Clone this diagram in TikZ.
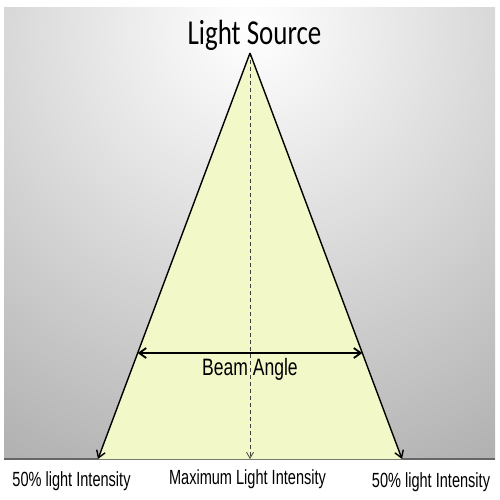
\documentclass[tikz,border=0pt]{standalone}
\usepackage{fontspec}
\usepackage{tikz}
\usetikzlibrary{arrows.meta,calc}
\newfontfamily\titlefont{Carlito}
\newfontfamily\labelfont{Liberation Sans}
\definecolor{beamyellow}{RGB}{242,248,200}
\pgfdeclareradialshading{bgglow}{\pgfpoint{0bp}{0bp}}{color(0bp)=(white); color(25bp)=(black!50); color(50bp)=(black!50)}

\begin{document}
\begin{tikzpicture}[x=1pt,y=-1pt,
  side/.style={line width=1.4pt,-{Straight Barb[length=7pt,width=9pt]}},
  axis/.style={line width=0.8pt,black!75,dash pattern=on 4pt off 3pt,-{Straight Barb[length=6pt,width=7pt]}},
  lbl/.style={anchor=base,inner sep=0pt},
  intensity/.style={lbl,font=\labelfont\fontsize{20.5}{24}\selectfont,xscale=0.71}
]
\useasboundingbox (0,0) rectangle (500,500);

% The background
\begin{scope}
\clip (4,8) rectangle (495,459);
\shade[shading=bgglow] (250,30) circle (800);
\end{scope}
\draw[line width=1.5pt,black!60] (4,459) -- (495,459);

% The beam
\coordinate (apex) at (250,53);
\coordinate (baseL) at (98,459);
\coordinate (baseR) at (402,459);
\coordinate (baseM) at (250,459);
\fill[beamyellow] (apex) -- (baseL) -- (baseR) -- cycle;
\draw[axis] (apex) -- (baseM);
\draw[side] (apex) -- (baseL);
\draw[side] (apex) -- (baseR);

% The beam angle
\coordinate (angL) at ($(apex)!0.739!(baseL)$);
\coordinate (angR) at ($(apex)!0.739!(baseR)$);
\draw[line width=1.8pt,{Straight Barb[length=7pt,width=10pt]}-{Straight Barb[length=7pt,width=10pt]}] (angL) -- (angR);

% The labels
\node[lbl,font=\titlefont\fontsize{35}{40}\selectfont,xscale=0.77] (source) at (254.5,45) {Light Source};
\node[lbl,font=\labelfont\fontsize{23.7}{28}\selectfont,xscale=0.74] (beam) at (250,375) {Beam Angle};
\node[intensity] (halfL) at (71.5,486) {50\% light Intensity};
\node[intensity] (maxI) at (247.5,484) {Maximum Light Intensity};
\node[intensity] (halfR) at (431,487) {50\% light Intensity};
\end{tikzpicture}
\end{document}
